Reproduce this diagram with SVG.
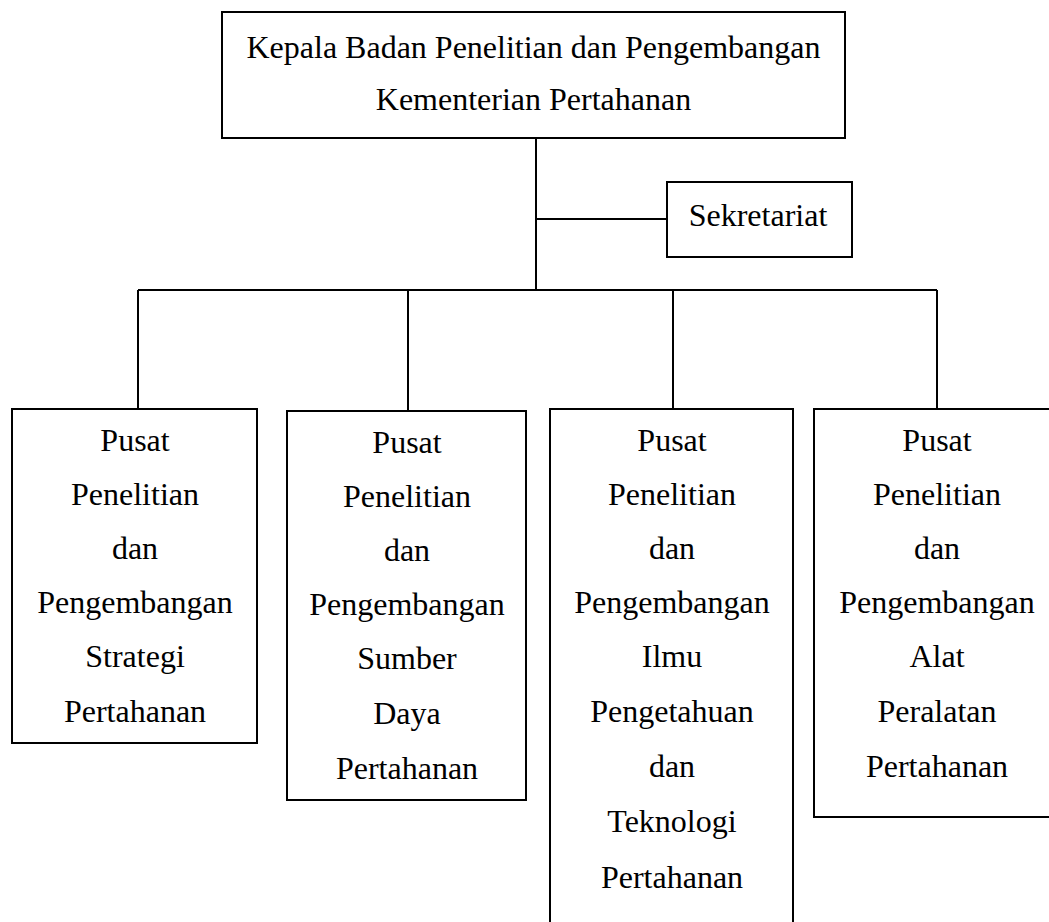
<svg xmlns="http://www.w3.org/2000/svg" width="1049" height="922" viewBox="0 0 1049 922">
<style>
.box{fill:#fff;stroke:#000;stroke-width:2}
.ln{fill:none;stroke:#000;stroke-width:2}
.t{font-family:"Liberation Serif","Times New Roman",serif;font-size:32px;fill:#000;text-anchor:middle}
</style>
<rect width="1049" height="922" fill="#fff"/>
<g id="connectors">
<path class="ln" d="M536,138 V290 M536,219 H667 M138,290 H937 M138,290 V409 M408,290 V411 M673,290 V409 M937,290 V409"/>
</g>
<g id="kepala">
<rect class="box" x="222" y="12" width="623" height="126"/>
<text class="t" x="533.5" y="58">Kepala Badan Penelitian dan Pengembangan</text>
<text class="t" x="533.5" y="110">Kementerian Pertahanan</text>
</g>
<g id="sekretariat">
<rect class="box" x="667" y="182" width="185" height="75"/>
<text class="t" x="758" y="226">Sekretariat</text>
</g>
<g id="pusat-strategi">
<rect class="box" x="12" y="409" width="245" height="334"/>
<text class="t"><tspan x="135" y="451">Pusat</tspan><tspan x="135" y="505">Penelitian</tspan><tspan x="135" y="559">dan</tspan><tspan x="135" y="613">Pengembangan</tspan><tspan x="135" y="667">Strategi</tspan><tspan x="135" y="722">Pertahanan</tspan></text>
</g>
<g id="pusat-sumber-daya">
<rect class="box" x="287" y="411" width="239" height="389"/>
<text class="t"><tspan x="407" y="453">Pusat</tspan><tspan x="407" y="507">Penelitian</tspan><tspan x="407" y="561">dan</tspan><tspan x="407" y="615">Pengembangan</tspan><tspan x="407" y="669">Sumber</tspan><tspan x="407" y="724">Daya</tspan><tspan x="407" y="779">Pertahanan</tspan></text>
</g>
<g id="pusat-iptek">
<rect class="box" x="550" y="409" width="243" height="530"/>
<text class="t"><tspan x="672" y="451">Pusat</tspan><tspan x="672" y="505">Penelitian</tspan><tspan x="672" y="559">dan</tspan><tspan x="672" y="613">Pengembangan</tspan><tspan x="672" y="667">Ilmu</tspan><tspan x="672" y="722">Pengetahuan</tspan><tspan x="672" y="777">dan</tspan><tspan x="672" y="832">Teknologi</tspan><tspan x="672" y="888">Pertahanan</tspan></text>
</g>
<g id="pusat-alat-peralatan">
<rect class="box" x="814" y="409" width="246" height="408"/>
<text class="t"><tspan x="937" y="451">Pusat</tspan><tspan x="937" y="505">Penelitian</tspan><tspan x="937" y="559">dan</tspan><tspan x="937" y="613">Pengembangan</tspan><tspan x="937" y="667">Alat</tspan><tspan x="937" y="722">Peralatan</tspan><tspan x="937" y="777">Pertahanan</tspan></text>
</g>
</svg>
